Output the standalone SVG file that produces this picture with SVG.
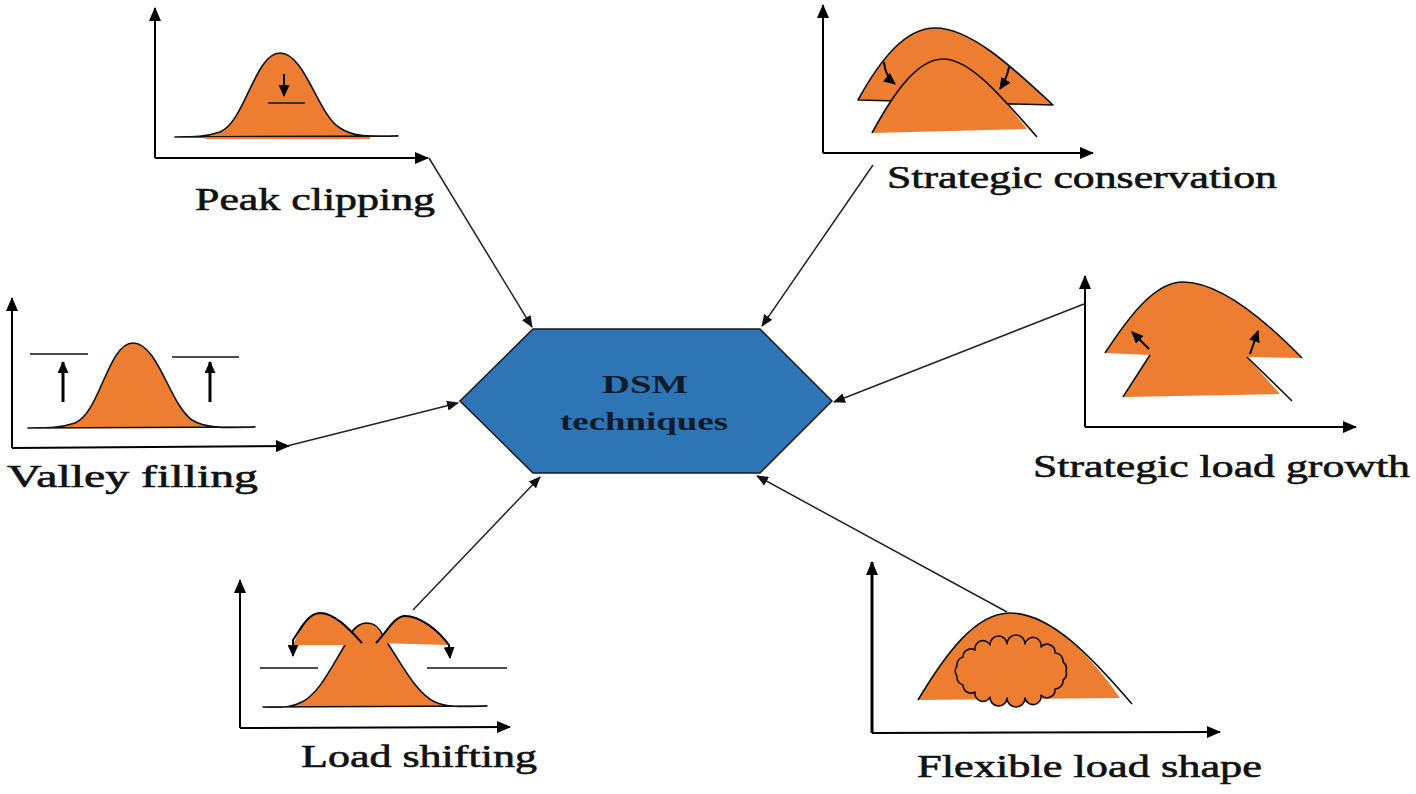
<svg xmlns="http://www.w3.org/2000/svg" width="1416" height="794" viewBox="0 0 1416 794">
<style>
.lbl{font-family:"Liberation Serif","Times New Roman",serif;font-size:31px;fill:#111;stroke:#111;stroke-width:0.6}
.dsm{font-family:"Liberation Serif","Times New Roman",serif;font-size:26px;font-weight:bold;fill:#0d1b2a}
.ax{stroke:#000;stroke-width:2;fill:none;marker-end:url(#axh)}
.crv{fill:#ED7D31;stroke:#111;stroke-width:1.6;stroke-linejoin:round}
.fill{fill:#ED7D31;stroke:none}
.ln{stroke:#111;stroke-width:1.6;fill:none}
.con{stroke:#222;stroke-width:1.5;fill:none;marker-end:url(#cah)}
.sm{stroke:#000;stroke-width:2;fill:none;marker-end:url(#sah)}
</style>
<defs>
<marker id="axh" markerUnits="userSpaceOnUse" markerWidth="14" markerHeight="12" viewBox="0 0 14 12" refX="13" refY="6" orient="auto"><path d="M0,0 L14,6 L0,12 Z" fill="#000"/></marker>
<marker id="cah" markerUnits="userSpaceOnUse" markerWidth="12" markerHeight="10" viewBox="0 0 12 10" refX="11" refY="5" orient="auto"><path d="M0,0 L12,5 L0,10 Z" fill="#111"/></marker>
<marker id="sah" markerUnits="userSpaceOnUse" markerWidth="12" markerHeight="11" viewBox="0 0 12 11" refX="11" refY="5.5" orient="auto"><path d="M0,0 L12,5.5 L0,11 Z" fill="#000"/></marker>
</defs>
<rect width="1416" height="794" fill="#fff"/>

<g id="connectors">
<path class="con" d="M429,158 L532,327"/>
<path class="con" d="M873,165 L762,326"/>
<path class="con" d="M1084,304 L834,402"/>
<path class="con" d="M283,447 L458,403"/>
<path class="con" d="M413,610 L540,477"/>
<path class="con" d="M1007,612 L757,476"/>
</g>

<g id="dsm">
<polygon points="533,329 760,329 832,401 760,473 533,473 460,401" fill="#2E75B6" stroke="#1a1a1a" stroke-width="1.5"/>
<text class="dsm" x="602" y="393" textLength="86" lengthAdjust="spacingAndGlyphs">DSM</text>
<text class="dsm" x="560" y="430" textLength="168" lengthAdjust="spacingAndGlyphs">techniques</text>
</g>

<g id="peak-clipping">
<path class="ax" d="M155,158 L155,8"/>
<path class="ax" d="M155,158 L428,158"/>
<path class="crv" d="M175,137 C195,137 205,137 220,132 C245,122 255,53 280,53 C305,53 318,115 340,128 C352,136 365,137 398,136 L175,137 Z"/>
<path class="fill" d="M205,137 L370,137 L370,139 L205,139 Z"/>
<path class="sm" d="M284,74 L284,96"/>
<path class="ln" d="M268,103 L305,103"/>
<text class="lbl" x="195" y="210" textLength="240" lengthAdjust="spacingAndGlyphs">Peak clipping</text>
</g>

<g id="strategic-conservation">
<path class="ax" d="M823,153 L823,5"/>
<path class="ax" d="M823,153 L1093,153"/>
<path class="crv" d="M858,100 C880,60 905,28 935,28 C970,28 1010,65 1053,105 L858,100 Z"/>
<path class="fill" d="M872,133 C890,100 915,59 943,59 C970,59 1000,95 1027,129 L872,133 Z"/>
<path class="ln" d="M872,133 C890,100 915,59 943,59 C970,59 1000,95 1037,137"/>
<path class="sm" d="M884,62 Q885,76 895,84"/>
<path class="sm" d="M1009,67 Q1007,78 1000,89"/>
<text class="lbl" x="887" y="188" textLength="390" lengthAdjust="spacingAndGlyphs">Strategic conservation</text>
</g>

<g id="valley-filling">
<path class="ax" d="M12,448 L12,298"/>
<path class="ax" d="M12,448 L289,446"/>
<path class="crv" d="M28,428 C50,428 60,428 75,423 C100,413 108,343 133,343 C158,343 170,405 192,420 C205,428 220,428 255,427 L28,428 Z"/>
<path class="ln" d="M30,354 L88,354"/>
<path class="ln" d="M172,357 L239,357"/>
<path class="sm" style="stroke-width:3" d="M63,402 L63,362"/>
<path class="sm" style="stroke-width:3" d="M210,402 L210,362"/>
<text class="lbl" x="7" y="487" textLength="251" lengthAdjust="spacingAndGlyphs">Valley filling</text>
</g>

<g id="strategic-load-growth">
<path class="ax" d="M1085,427 L1085,276"/>
<path class="ax" d="M1085,427 L1356,427"/>
<path class="fill" d="M1105,353 C1130,315 1155,282 1183,282 C1220,282 1265,320 1302,358 L1247,357 L1280,394 L1124,397 L1150,355 Z"/>
<path class="ln" d="M1105,353 C1130,315 1155,282 1183,282 C1220,282 1265,320 1302,358"/>
<path class="ln" d="M1150,355 L1123,397"/>
<path class="ln" d="M1247,357 L1292,401"/>
<path class="sm" d="M1149,349 L1132,332"/>
<path class="sm" d="M1250,354 L1258,331"/>
<text class="lbl" x="1033" y="477" textLength="377" lengthAdjust="spacingAndGlyphs">Strategic load growth</text>
</g>

<g id="load-shifting">
<path class="ax" d="M240,728 L240,580"/>
<path class="ax" d="M240,728 L510,727"/>
<path class="crv" d="M263,707 C285,708 292,707 302,702 C318,694 330,670 342,650 L350,636 C353,628 360,623 367,623 C374,623 380,628 383,636 L392,650 C405,670 418,694 435,702 C445,707 460,707 487,706 L263,707 Z"/>
<path class="fill" d="M293,645 C300,630 308,613 320,613 C335,613 350,630 362,643 L362,645 Z"/>
<path class="fill" d="M376,643 C388,630 395,616 405,616 C420,616 438,630 448,645 Z"/>
<path class="sm" d="M362,643 C350,630 335,613 320,613 C308,613 300,630 293,640 L293,656"/>
<path class="sm" d="M376,643 C388,630 395,616 405,616 C420,616 438,630 449,645 L450,658"/>
<path class="ln" d="M260,668 L318,668"/>
<path class="ln" d="M427,668 L507,668"/>
<text class="lbl" x="301" y="767" textLength="236" lengthAdjust="spacingAndGlyphs">Load shifting</text>
</g>

<g id="flexible-load-shape">
<path class="ax" style="stroke-width:3" d="M872,733 L872,562"/>
<path class="ax" d="M872,733 L1220,732"/>
<path class="fill" d="M918,700 C945,655 975,613 1010,613 C1050,613 1090,655 1120,698 L918,700 Z"/>
<path class="ln" d="M918,700 C945,655 975,613 1010,613 C1050,613 1090,655 1132,704"/>
<path class="crv" d="M1066,671 A8,8 0 0 1 1063,680 A8,8 0 0 1 1055,689 A8,8 0 0 1 1041,695 A8,8 0 0 1 1025,698 A8,8 0 0 1 1007,698 A8,8 0 0 1 990,697 A8,8 0 0 1 975,692 A8,8 0 0 1 963,685 A8,8 0 0 1 957,676 A8,8 0 0 1 957,666 A8,8 0 0 1 963,657 A8,8 0 0 1 975,650 A8,8 0 0 1 990,645 A8,8 0 0 1 1007,644 A8,8 0 0 1 1025,644 A8,8 0 0 1 1041,647 A8,8 0 0 1 1055,653 A8,8 0 0 1 1063,662 A8,8 0 0 1 1066,671 Z"/>
<text class="lbl" x="917" y="777" textLength="345" lengthAdjust="spacingAndGlyphs">Flexible load shape</text>
</g>
</svg>
